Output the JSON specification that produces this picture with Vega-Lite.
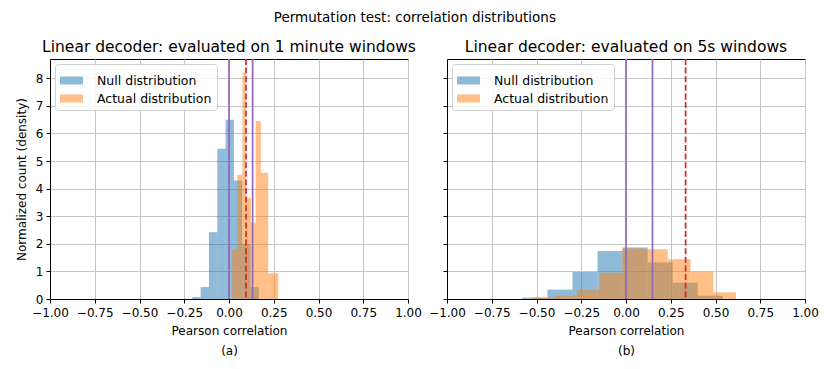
{
  "$schema": "https://vega.github.io/schema/vega-lite/v6.json",
  "title": {"text": "Permutation test: correlation distributions", "fontSize": 13.5, "anchor": "middle", "offset": 15, "dx": -2},
  "padding": {"left": 14, "top": 10, "right": 5, "bottom": 5},
  "bounds": "flush",
  "datasets": {
    "hist": [
      {"panel": "a", "series": "Null distribution", "x0": -0.205, "x1": -0.1585, "density": 0.07},
      {"panel": "a", "series": "Null distribution", "x0": -0.1585, "x1": -0.112, "density": 0.43},
      {"panel": "a", "series": "Null distribution", "x0": -0.112, "x1": -0.0655, "density": 2.42},
      {"panel": "a", "series": "Null distribution", "x0": -0.0655, "x1": -0.019, "density": 5.45},
      {"panel": "a", "series": "Null distribution", "x0": -0.019, "x1": 0.0275, "density": 6.5},
      {"panel": "a", "series": "Null distribution", "x0": 0.0275, "x1": 0.074, "density": 4.3},
      {"panel": "a", "series": "Null distribution", "x0": 0.074, "x1": 0.1205, "density": 2.0},
      {"panel": "a", "series": "Null distribution", "x0": 0.1205, "x1": 0.167, "density": 0.43},
      {"panel": "a", "series": "Actual distribution", "x0": 0.018, "x1": 0.0465, "density": 1.8},
      {"panel": "a", "series": "Actual distribution", "x0": 0.0465, "x1": 0.075, "density": 4.5},
      {"panel": "a", "series": "Actual distribution", "x0": 0.075, "x1": 0.0935, "density": 8.2},
      {"panel": "a", "series": "Actual distribution", "x0": 0.0935, "x1": 0.122, "density": 3.67},
      {"panel": "a", "series": "Actual distribution", "x0": 0.122, "x1": 0.1485, "density": 2.77},
      {"panel": "a", "series": "Actual distribution", "x0": 0.1485, "x1": 0.178, "density": 6.45},
      {"panel": "a", "series": "Actual distribution", "x0": 0.178, "x1": 0.219, "density": 4.58},
      {"panel": "a", "series": "Actual distribution", "x0": 0.219, "x1": 0.275, "density": 0.93},
      {"panel": "b", "series": "Null distribution", "x0": -0.579, "x1": -0.439, "density": 0.05},
      {"panel": "b", "series": "Null distribution", "x0": -0.439, "x1": -0.299, "density": 0.34},
      {"panel": "b", "series": "Null distribution", "x0": -0.299, "x1": -0.159, "density": 0.98},
      {"panel": "b", "series": "Null distribution", "x0": -0.159, "x1": -0.019, "density": 1.74},
      {"panel": "b", "series": "Null distribution", "x0": -0.019, "x1": 0.121, "density": 1.87},
      {"panel": "b", "series": "Null distribution", "x0": 0.121, "x1": 0.261, "density": 1.32},
      {"panel": "b", "series": "Null distribution", "x0": 0.261, "x1": 0.401, "density": 0.59},
      {"panel": "b", "series": "Null distribution", "x0": 0.401, "x1": 0.541, "density": 0.12},
      {"panel": "b", "series": "Actual distribution", "x0": -0.527, "x1": -0.4002, "density": 0.05},
      {"panel": "b", "series": "Actual distribution", "x0": -0.4002, "x1": -0.2734, "density": 0.12},
      {"panel": "b", "series": "Actual distribution", "x0": -0.2734, "x1": -0.1466, "density": 0.32},
      {"panel": "b", "series": "Actual distribution", "x0": -0.1466, "x1": -0.0198, "density": 0.95},
      {"panel": "b", "series": "Actual distribution", "x0": -0.0198, "x1": 0.107, "density": 1.83},
      {"panel": "b", "series": "Actual distribution", "x0": 0.107, "x1": 0.2338, "density": 1.8},
      {"panel": "b", "series": "Actual distribution", "x0": 0.2338, "x1": 0.3606, "density": 1.44},
      {"panel": "b", "series": "Actual distribution", "x0": 0.3606, "x1": 0.4874, "density": 0.98},
      {"panel": "b", "series": "Actual distribution", "x0": 0.4874, "x1": 0.6142, "density": 0.24}
    ],
    "lines": [
      {"panel": "a", "kind": "ci", "value": 0.0},
      {"panel": "a", "kind": "ci", "value": 0.132},
      {"panel": "a", "kind": "obs", "value": 0.095},
      {"panel": "b", "kind": "ci", "value": 0.0},
      {"panel": "b", "kind": "ci", "value": 0.148},
      {"panel": "b", "kind": "obs", "value": 0.333}
    ]
  },
  "spacing": 39,
  "resolve": {"legend": {"color": "independent"}},
  "hconcat": [
    {
      "width": 358,
      "height": 240,
      "title": {"text": "Linear decoder: evaluated on 1 minute windows"},
      "layer": [
        {
          "data": {"name": "hist"},
          "transform": [{"filter": "datum.panel === 'a'"}],
          "mark": {"type": "rect", "opacity": 0.5, "strokeWidth": 0},
          "encoding": {
            "x": {"field": "x0", "type": "quantitative", "scale": {"domain": [-1, 1], "nice": false},
              "axis": {"values": [-1, -0.75, -0.5, -0.25, 0, 0.25, 0.5, 0.75, 1], "format": ".2f", "labelFlush": false, "labelOverlap": false, "labelPadding": 4, "title": ["Pearson correlation", "(a)"]}},
            "x2": {"field": "x1"},
            "y": {"field": "density", "type": "quantitative", "scale": {"domain": [0, 8.7], "nice": false},
              "axis": {"values": [0, 1, 2, 3, 4, 5, 6, 7, 8], "format": "d", "title": "Normalized count (density)"}},
            "y2": {"datum": 0},
            "color": {"field": "series", "type": "nominal", "scale": {"domain": ["Null distribution", "Actual distribution"], "range": ["#1f77b4", "#ff7f0e"]}, "legend": {"title": null}}
          }
        },
        {
          "data": {"name": "lines"},
          "transform": [{"filter": "datum.panel === 'a' && datum.kind === 'ci'"}],
          "mark": {"type": "rule", "color": "#9467bd", "strokeWidth": 1.7},
          "encoding": {"x": {"field": "value", "type": "quantitative"}}
        },
        {
          "data": {"name": "lines"},
          "transform": [{"filter": "datum.panel === 'a' && datum.kind === 'obs'"}],
          "mark": {"type": "rule", "color": "#d62728", "strokeWidth": 1.7, "strokeDash": [6, 2.6]},
          "encoding": {"x": {"field": "value", "type": "quantitative"}}
        }
      ]
    },
    {
      "width": 358,
      "height": 240,
      "title": {"text": "Linear decoder: evaluated on 5s windows"},
      "layer": [
        {
          "data": {"name": "hist"},
          "transform": [{"filter": "datum.panel === 'b'"}],
          "mark": {"type": "rect", "opacity": 0.5, "strokeWidth": 0},
          "encoding": {
            "x": {"field": "x0", "type": "quantitative", "scale": {"domain": [-1, 1], "nice": false},
              "axis": {"values": [-1, -0.75, -0.5, -0.25, 0, 0.25, 0.5, 0.75, 1], "format": ".2f", "labelFlush": false, "labelOverlap": false, "labelPadding": 4, "title": ["Pearson correlation", "(b)"]}},
            "x2": {"field": "x1"},
            "y": {"field": "density", "type": "quantitative", "scale": {"domain": [0, 8.7], "nice": false},
              "axis": {"values": [0, 1, 2, 3, 4, 5, 6, 7, 8], "labels": false, "title": null}},
            "y2": {"datum": 0},
            "color": {"field": "series", "type": "nominal", "scale": {"domain": ["Null distribution", "Actual distribution"], "range": ["#1f77b4", "#ff7f0e"]}, "legend": {"title": null}}
          }
        },
        {
          "data": {"name": "lines"},
          "transform": [{"filter": "datum.panel === 'b' && datum.kind === 'ci'"}],
          "mark": {"type": "rule", "color": "#9467bd", "strokeWidth": 1.7},
          "encoding": {"x": {"field": "value", "type": "quantitative"}}
        },
        {
          "data": {"name": "lines"},
          "transform": [{"filter": "datum.panel === 'b' && datum.kind === 'obs'"}],
          "mark": {"type": "rule", "color": "#d62728", "strokeWidth": 1.7, "strokeDash": [6, 2.6]},
          "encoding": {"x": {"field": "value", "type": "quantitative"}}
        }
      ]
    }
  ],
  "config": {
    "font": "DejaVu Sans",
    "background": "white",
    "view": {"stroke": "black", "strokeWidth": 1},
    "title": {"fontSize": 15.5, "fontWeight": "normal", "color": "black", "offset": 3, "font": "DejaVu Sans"},
    "axis": {
      "grid": true,
      "gridColor": "#c4c4c4",
      "gridWidth": 1,
      "domain": true,
      "domainColor": "black",
      "tickColor": "black",
      "tickSize": 4,
      "labelPadding": 3,
      "labelColor": "black",
      "labelFontSize": 12,
      "labelFont": "DejaVu Sans",
      "titleFont": "DejaVu Sans",
      "titleFontSize": 12,
      "titleFontWeight": "normal",
      "titleColor": "black",
      "titlePadding": 7,
      "titleLineHeight": 20
    },
    "legend": {
      "orient": "top-left",
      "offset": 5,
      "fillColor": "rgba(255,255,255,0.85)",
      "strokeColor": "#d0d0d0",
      "cornerRadius": 3,
      "padding": 5,
      "symbolType": "M-1,-0.35H1V0.35H-1Z",
      "symbolSize": 529,
      "symbolOpacity": 0.5,
      "symbolStrokeWidth": 0,
      "labelFontSize": 12.5,
      "labelFont": "DejaVu Sans",
      "labelColor": "black",
      "labelOffset": 14,
      "rowPadding": 0
    }
  }
}
